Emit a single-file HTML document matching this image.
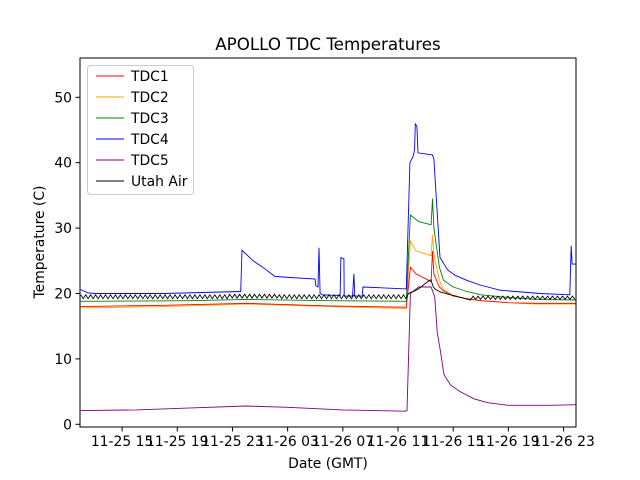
<!DOCTYPE html>
<html><head><meta charset="utf-8"><style>
body{margin:0;background:#fff}
svg{display:block;font-family:"DejaVu Sans","Liberation Sans",sans-serif}
</style></head><body>
<svg id="chart" width="640" height="480">
<rect x="0" y="0" width="640" height="480" fill="#fff"/>
<text x="328" y="50" text-anchor="middle" font-size="16.7">APOLLO TDC Temperatures</text>
<g id="plot"></g>
<rect x="80" y="58" width="496" height="369" fill="none" stroke="#000" stroke-width="1"/>
<g id="axes"></g>
<text x="328" y="468" text-anchor="middle" font-size="13.9">Date (GMT)</text>
<text transform="translate(44,242) rotate(-90)" text-anchor="middle" font-size="13.9">Temperature (C)</text>
<g id="legend"></g>
</svg>
<script>
const xTickHours=[15,19,23,27,31,35,39,43,47];
const xTickLabels=["11-25 15","11-25 19","11-25 23","11-26 03","11-26 07","11-26 11","11-26 15","11-26 19","11-26 23"];
const yTicks=[0,10,20,30,40,50];
const seriesNames=["TDC1","TDC2","TDC3","TDC4","TDC5","Utah Air"];
const seriesColors=["red","orange","green","blue","purple","black"];
const tdc4H=[12,12.5,13,18,23.6,23.69,24.5,24.85,25.14,26.08,28.98,29.05,29.2,29.27,29.35,29.49,30.8,30.86,31.08,31.1,31.7,31.8,31.87,32.4,32.46,35.6,35.86,36.1,36.2,36.25,36.37,36.45,37.5,37.6,38.04,38.6,39.12,40.0,40.94,42.38,45.28,47.45,47.55,47.62,47.89];
const tdc4V=[20.6,20.1,20.0,20.0,20.3,26.6,25.0,24.5,24.1,22.6,22.2,21.2,21.0,27.0,20.0,19.8,19.7,25.5,25.3,19.6,19.6,23.0,19.6,19.6,21.0,20.7,40.0,41.0,42.0,46.0,45.5,41.5,41.2,40.5,25.5,23.6,22.8,22.0,21.3,20.5,20.0,19.8,27.3,24.5,24.5];
const tdc3H=[12,20,24,30,35.6,35.9,36.5,37.4,37.5,37.6,38.0,38.3,39.0,40.0,41.0,43,45,47.89];
const tdc3V=[18.8,18.9,19.1,18.9,18.8,32.0,31.0,30.5,34.5,30.0,24.0,22.0,21.0,20.3,19.8,19.4,19.1,19.0];
const tdc2H=[12,18,24,30,35.6,35.9,36.3,37.4,37.5,37.6,38.0,38.3,39.0,40.0,41.0,43,45,47.89];
const tdc2V=[17.8,18.0,18.4,18.0,17.7,28.0,26.5,25.8,29.0,26.0,22.0,20.6,19.7,19.2,18.9,18.6,18.4,18.4];
const tdc1H=[12,18,24,30,35.6,35.9,36.3,37.4,37.5,37.6,38.0,38.3,39.0,40.0,41.0,43,45,47.89];
const tdc1V=[18.0,18.2,18.5,18.1,17.9,24.0,23.0,21.8,26.5,23.0,21.0,20.4,19.6,19.2,18.9,18.6,18.5,18.5];
const tdc5H=[12,16,20,24,27,31,35.5,35.65,35.9,36.5,37.4,37.66,37.85,38.07,38.33,38.81,39.5,40.5,41.5,42.97,44.5,46,47.89];
const tdc5V=[2.1,2.2,2.5,2.8,2.6,2.2,2.0,2.1,20.0,21.0,21.0,19.5,14.0,11.2,7.6,6.0,5.0,3.9,3.3,2.9,2.9,2.9,3.0];
const utahStart=12;
const utahStep=0.18;
const utahV=[
19.8,19.2,19.8,19.2,19.8,19.2,19.8,19.2,19.8,19.2,19.8,19.2,19.8,19.2,19.8,19.2,19.8,19.2,19.8,19.2,
19.8,19.2,19.8,19.2,19.8,19.2,19.8,19.2,19.8,19.2,19.8,19.2,19.8,19.2,19.8,19.2,19.8,19.2,19.8,19.2,
19.8,19.2,19.8,19.2,19.8,19.2,19.8,19.2,19.8,19.2,19.8,19.2,19.8,19.2,19.8,19.2,19.8,19.2,19.8,19.2,
19.9,19.3,19.9,19.3,19.9,19.3,19.9,19.3,19.9,19.3,19.9,19.3,19.9,19.3,19.9,19.3,19.9,19.3,19.9,19.3,
19.8,19.2,19.8,19.2,19.8,19.2,19.8,19.2,19.8,19.2,19.8,19.2,19.8,19.2,19.8,19.2,19.8,19.2,19.8,19.2,
19.8,19.2,19.8,19.2,19.8,19.2,19.8,19.2,19.8,19.2,19.8,19.2,19.8,19.2,19.8,19.2,19.8,19.2,19.8,19.2,
19.8,19.2,19.8,19.2,19.8,19.2,19.8,19.2,19.8,19.2,19.8,19.2,
20.0,20.2,20.3,20.5,20.7,21.0,21.3,21.6,21.9,22.1,21.0,20.6,20.4,20.2,20.1,20.0,19.9,19.8,19.7,19.6,19.5,19.4,19.3,19.2,19.1,19.0,
19.6,19.1,19.6,19.1,19.6,19.1,19.6,19.1,19.6,19.1,19.6,19.1,19.6,19.1,19.6,19.1,19.6,19.1,19.6,19.1,
19.6,19.1,19.6,19.1,19.6,19.1,19.6,19.1,19.6,19.1,19.6,19.1,19.6,19.1,19.6,19.1,19.6,19.1,19.6,19.1,19.6,19.1];

const X0=80,X1=576,H0=11.95,H1=47.9,Y0=424.3,PX10=65.4;
function xs(h){return X0+(h-H0)*(X1-X0)/(H1-H0);}
function ys(v){return Y0-v*PX10/10;}
const NS="http://www.w3.org/2000/svg";
const plot=document.getElementById('plot'),axes=document.getElementById('axes'),legend=document.getElementById('legend');
function mk(t,a,p){const e=document.createElementNS(NS,t);for(const k in a)e.setAttribute(k,a[k]);p.appendChild(e);return e;}
function drawLine(H,V,color,name){
  const d=H.map((h,i)=>(i?'L':'M')+xs(h).toFixed(1)+','+ys(V[i]).toFixed(1)).join('');
  const p=mk('path',{d:d,fill:'none',stroke:color,'stroke-width':0.9},plot);
  
  
}
const utahH=utahV.map((v,i)=>utahStart+i*utahStep);
drawLine(tdc2H,tdc2V,'orange','line-tdc2');
drawLine(tdc1H,tdc1V,'red','line-tdc1');
drawLine(tdc3H,tdc3V,'green','line-tdc3');
drawLine(tdc4H,tdc4V,'blue','line-tdc4');
drawLine(tdc5H,tdc5V,'purple','line-tdc5');
drawLine(utahH,utahV,'black','line-utah-air');
xTickHours.forEach((h,i)=>{
  const x=xs(h);
  const t=mk('line',{x1:x,x2:x,y1:427,y2:431.5,stroke:'#000'},axes);
  
  
  const l=mk('text',{x:x,y:446,'text-anchor':'middle','font-size':13.9},axes);
  l.textContent=xTickLabels[i];
  
  
});
yTicks.forEach(v=>{
  const y=ys(v);
  const t=mk('line',{x1:75.5,x2:80,y1:y,y2:y,stroke:'#000'},axes);
  
  
  const l=mk('text',{x:72,y:y+5,'text-anchor':'end','font-size':13.9},axes);
  l.textContent=String(v);
  
  
});
const box=mk('rect',{x:87.5,y:65.5,width:106,height:129,rx:3,fill:'#fff','fill-opacity':0.8,stroke:'#ccc'},legend);


seriesNames.forEach((n,i)=>{
  const y=76+i*21;
  const g=mk('g',{},legend);
  
  
  mk('line',{x1:96,x2:124,y1:y,y2:y,stroke:seriesColors[i],'stroke-width':0.9},g);
  const t=mk('text',{x:131,y:y+5,'font-size':13.9},g);
  t.textContent=n;
});
</script>
</body></html>
